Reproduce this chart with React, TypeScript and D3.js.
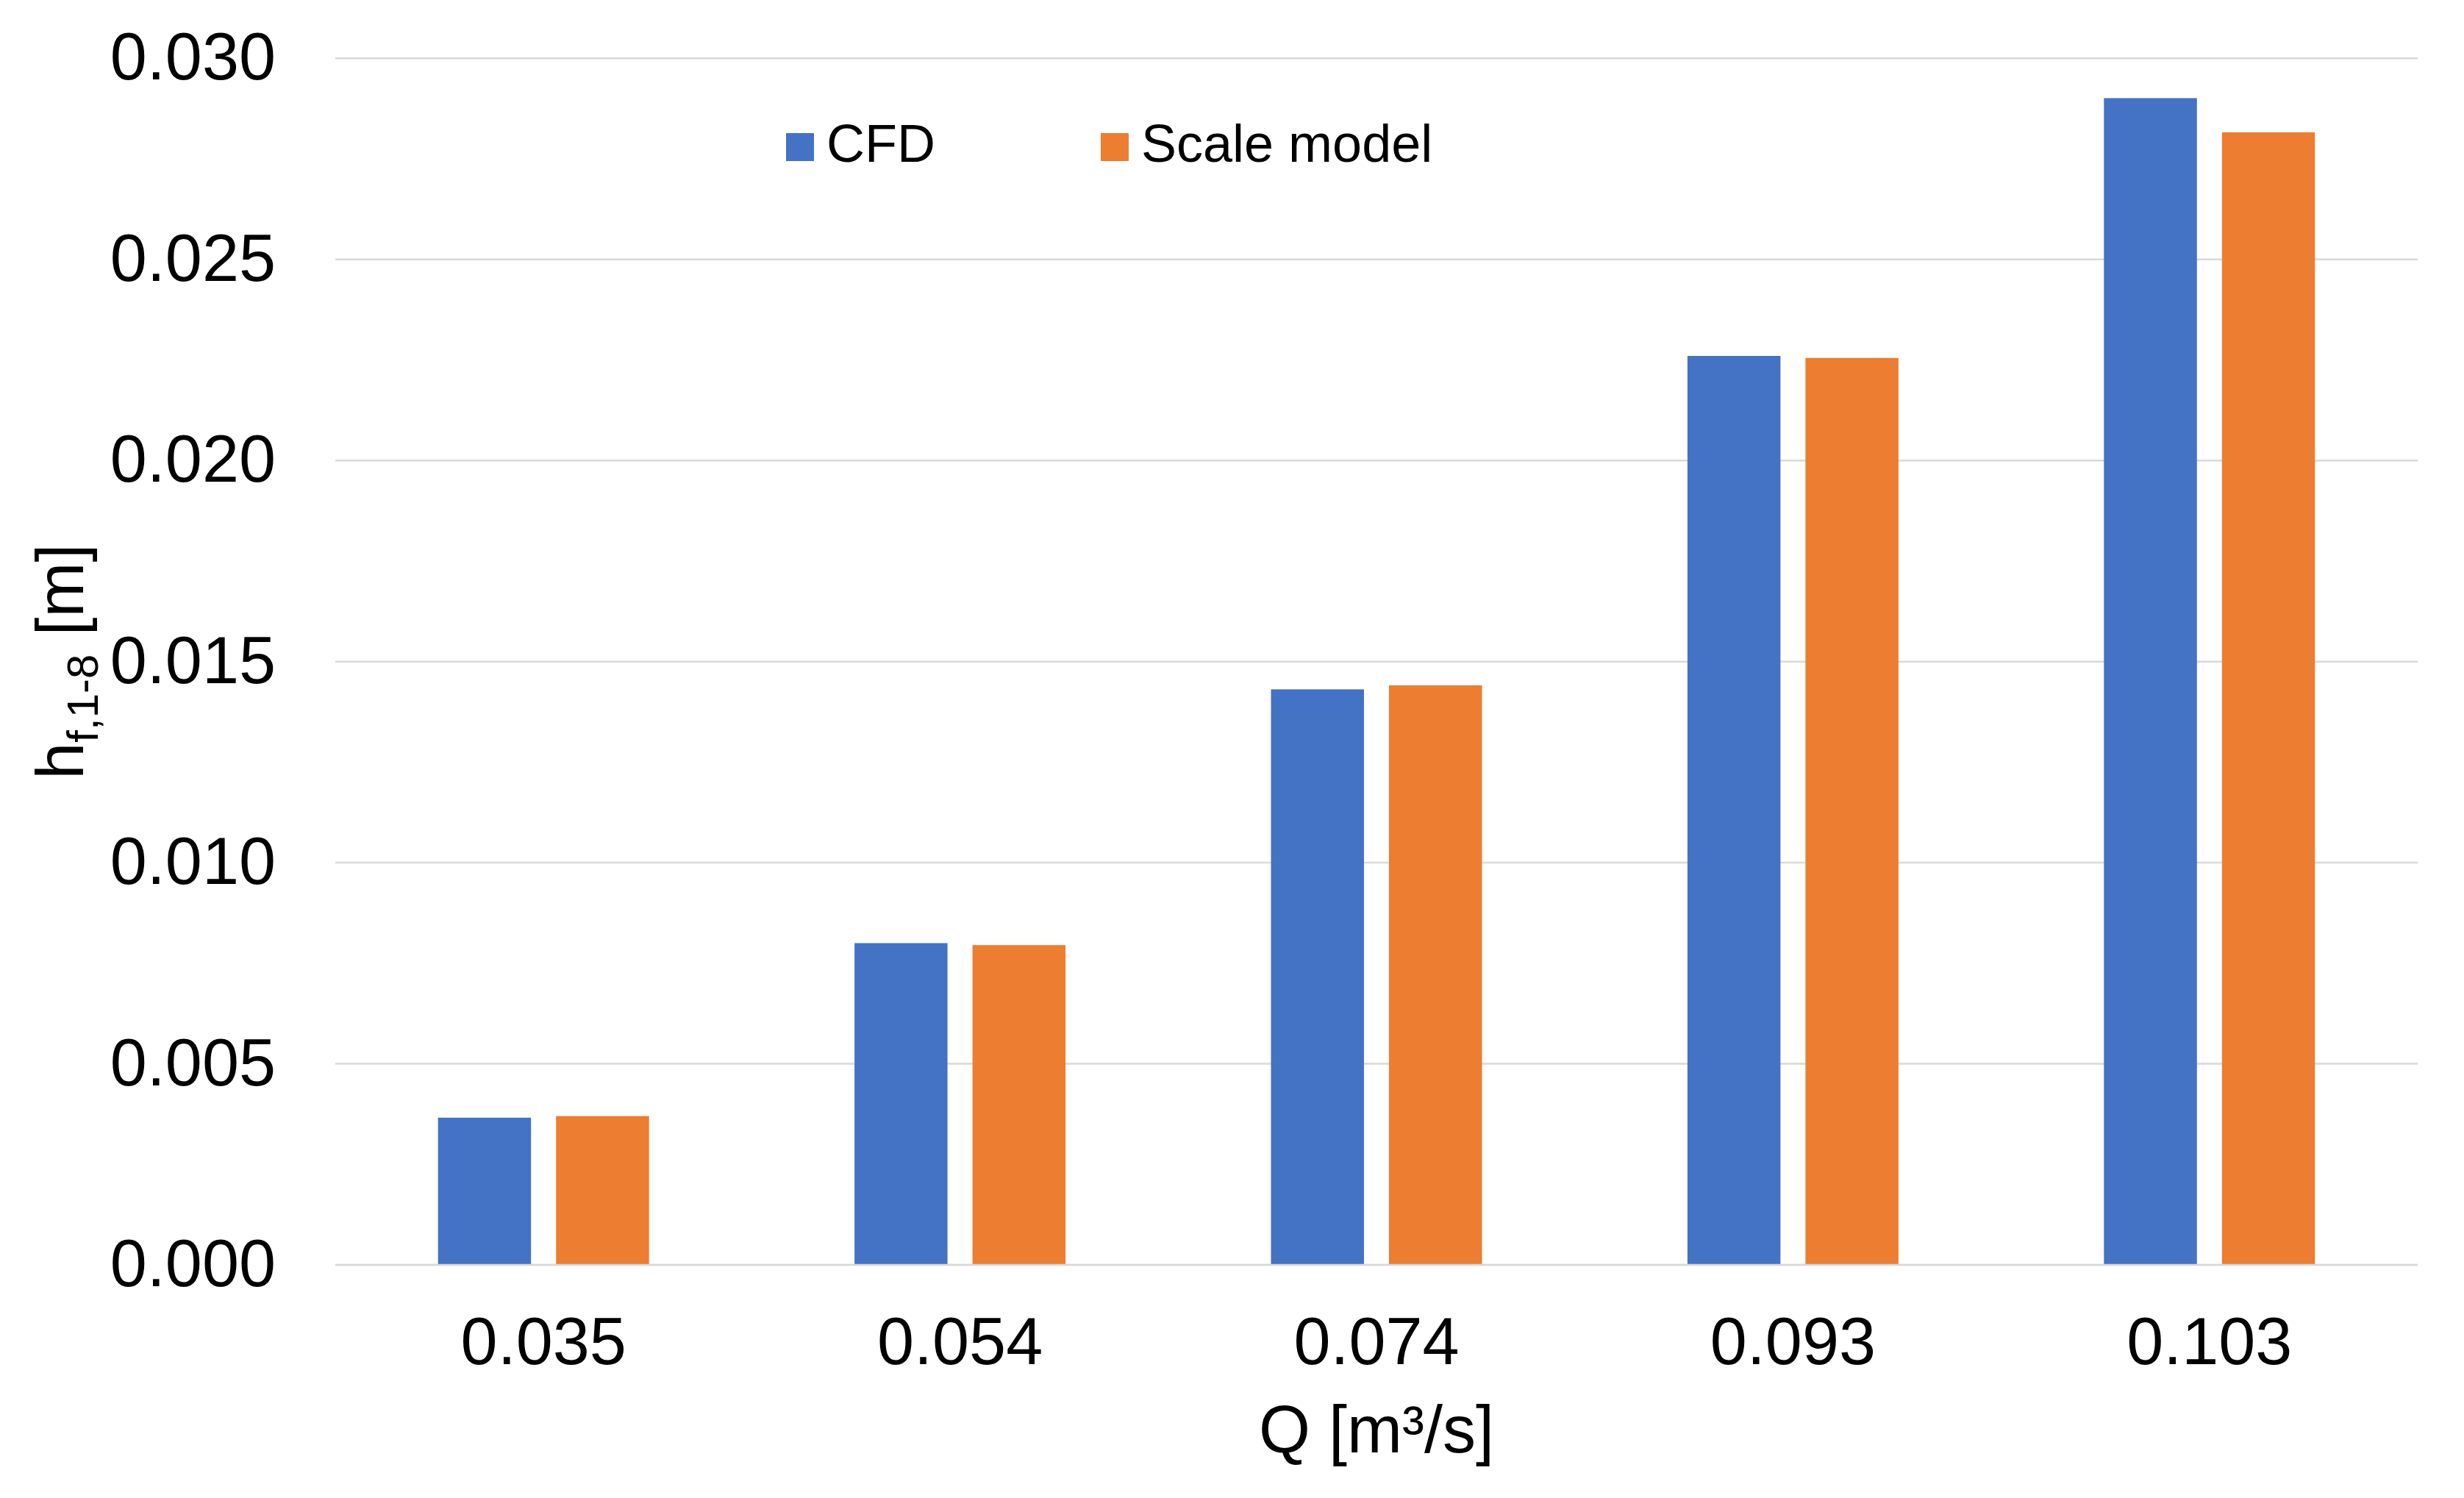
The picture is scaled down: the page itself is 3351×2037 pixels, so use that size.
import React from "react";
import * as d3 from "d3";

const categories = ["0.035", "0.054", "0.074", "0.093", "0.103"];
const seriesNames = ["CFD", "Scale model"];
const cfdValues = [0.00366, 0.008, 0.01431, 0.0226, 0.02901];
const scaleModelValues = [0.0037, 0.00795, 0.01441, 0.02255, 0.02816];
const yTicks = [0, 0.005, 0.01, 0.015, 0.02, 0.025, 0.03];
const colors = ["#4472C4", "#ED7D31"];

const W = 3351;
const H = 2037;
const FONT = "'Liberation Sans', Arial, Helvetica, sans-serif";

export default function App() {
  const plotLeft = 456;
  const plotRight = 3288;
  const plotTop = 79.3;
  const plotBottom = 1720;

  const x0 = d3.scaleBand<string>().domain(categories).range([plotLeft, plotRight]).paddingInner(0).paddingOuter(0);
  const groupWidth = 287;
  const x1 = d3
    .scaleBand<string>()
    .domain(seriesNames)
    .range([-groupWidth / 2, groupWidth / 2])
    .paddingInner(0.212)
    .paddingOuter(0);
  const y = d3.scaleLinear().domain([0, 0.03]).range([plotBottom, plotTop]);

  const series = [cfdValues, scaleModelValues];
  const fmt = d3.format(".3f");

  return (
    <svg
      width={W}
      height={H}
      viewBox={`0 0 ${W} ${H}`}
      style={{ position: "absolute", left: 0, top: 0, background: "#fff" }}
      fontFamily={FONT}
    >
      <rect x={0} y={0} width={W} height={H} fill="#fff" />
      {/* gridlines */}
      {yTicks.map((t) => (
        <line
          key={"g" + t}
          x1={plotLeft}
          x2={plotRight}
          y1={y(t)}
          y2={y(t)}
          stroke="#D9D9D9"
          strokeWidth={2.5}
        />
      ))}
      {/* y tick labels */}
      {yTicks.map((t) => (
        <text key={"yt" + t} x={375} y={y(t) + 29} textAnchor="end" fontSize={90} fill="#000">
          {fmt(t)}
        </text>
      ))}
      {/* bars */}
      {categories.map((c, i) => (
        <g key={"c" + c} transform={`translate(${(x0(c) ?? 0) + x0.bandwidth() / 2},0)`}>
          {seriesNames.map((s, j) => (
            <rect
              key={s}
              x={x1(s) ?? 0}
              y={y(series[j][i])}
              width={x1.bandwidth()}
              height={plotBottom - y(series[j][i])}
              fill={colors[j]}
            />
          ))}
        </g>
      ))}
      {/* x axis line */}
      <line x1={plotLeft} x2={plotRight} y1={plotBottom} y2={plotBottom} stroke="#D9D9D9" strokeWidth={2.5} />
      {/* x tick labels */}
      {categories.map((c) => (
        <text
          key={"xt" + c}
          x={(x0(c) ?? 0) + x0.bandwidth() / 2}
          y={1855}
          textAnchor="middle"
          fontSize={90}
          fill="#000"
        >
          {c}
        </text>
      ))}
      {/* x axis title */}
      <text x={(plotLeft + plotRight) / 2} y={1975} textAnchor="middle" fontSize={90} fill="#000">
        Q [m³/s]
      </text>
      {/* y axis title */}
      <text
        transform={`translate(113,${(plotTop + plotBottom) / 2}) rotate(-90)`}
        textAnchor="middle"
        fontSize={90}
        fill="#000"
      >
        h
        <tspan fontSize={60} dy={20}>
          f,1-8
        </tspan>
        <tspan dy={-20}> [m]</tspan>
      </text>
      {/* legend */}
      {seriesNames.map((s, j) => {
        const lx = [1069, 1497][j];
        return (
          <g key={"lg" + s}>
            <rect x={lx} y={181} width={38} height={38} fill={colors[j]} />
            <text x={lx + 55} y={220} fontSize={72} fill="#000">
              {s}
            </text>
          </g>
        );
      })}
    </svg>
  );
}
